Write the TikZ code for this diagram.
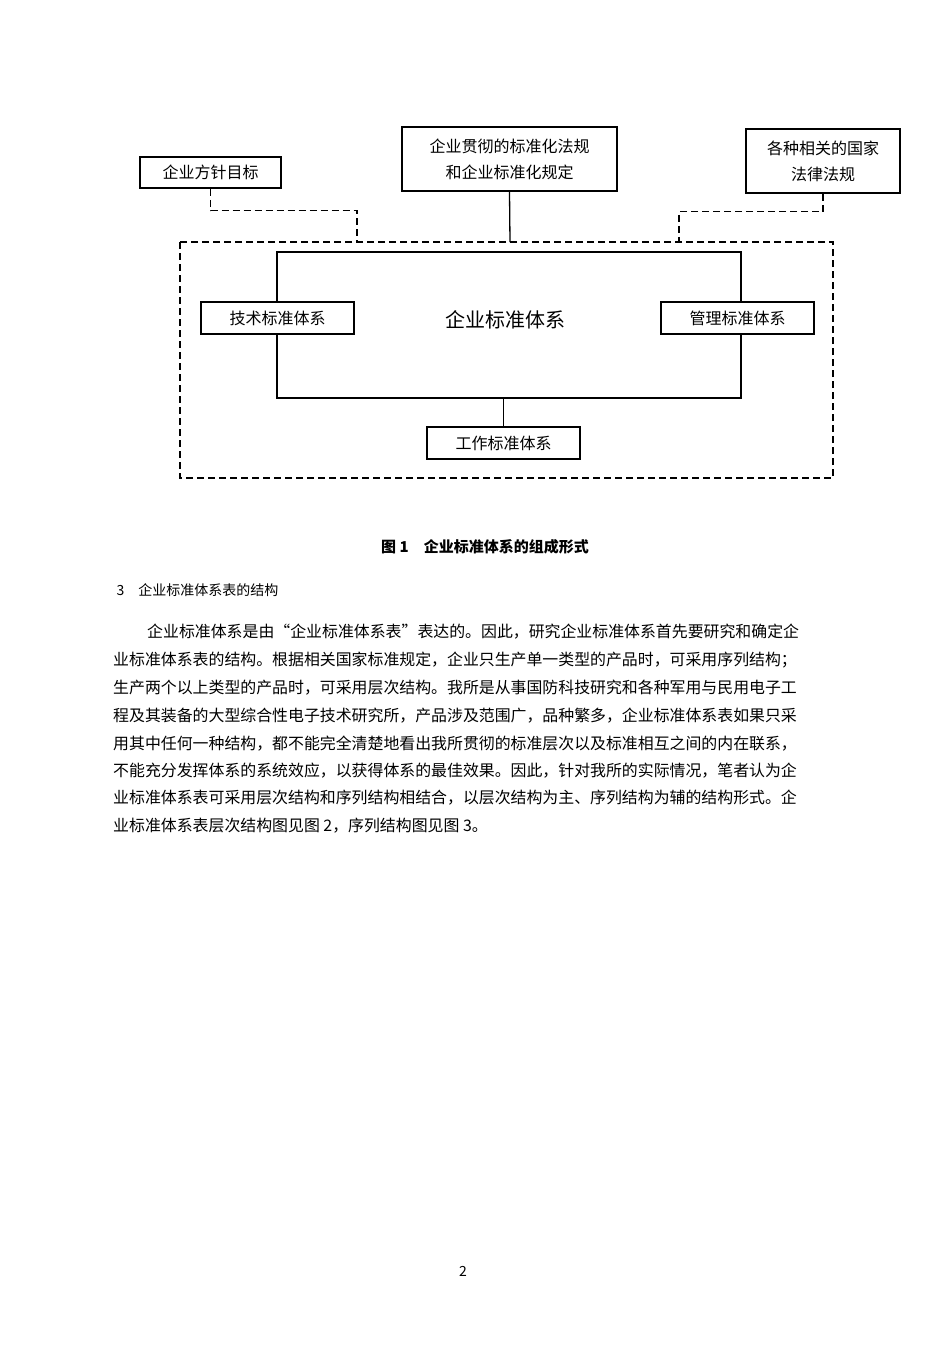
\documentclass[tikz,border=0pt]{standalone}
\usepackage{fontspec}
\setmainfont{Noto Sans CJK SC}
\begin{document}
\begin{tikzpicture}[x=1pt,y=-1pt,
 bx/.style={draw,line width=1.6pt,inner sep=0pt,font=\fontsize{16}{26}\selectfont,align=center},
 dl/.style={line width=1.3pt,dash pattern=on 7pt off 4pt},
 sl/.style={line width=1.3pt},
 para/.style={anchor=west,inner sep=0pt,font=\fontsize{15.9}{18}\selectfont}]
\useasboundingbox (0,0) rectangle (950,1345);
\node[bx,minimum width=141pt,minimum height=31pt] (fz) at (210.5,172.5) {企业方针目标};
\node[bx,minimum width=215pt,minimum height=64pt] (fg) at (509.5,159) {企业贯彻的标准化法规\\和企业标准化规定};
\node[bx,minimum width=154pt,minimum height=64pt] (gj) at (823,161) {各种相关的国家\\法律法规};
\draw[dl] (180,242) rectangle (833,478);
\coordinate (dtl) at (357,242); \coordinate (dtm) at (510,242); \coordinate (dtr) at (679,242);
\draw[sl] (277,252) rectangle (741,398);
\node[font=\fontsize{20}{24}\selectfont] (center) at (505,320) {企业标准体系};
\node[bx,fill=white,minimum width=153pt,minimum height=32pt] (js) at (277.5,318) {技术标准体系};
\node[bx,fill=white,minimum width=153pt,minimum height=32pt] (gl) at (737.5,318) {管理标准体系};
\node[bx,fill=white,minimum width=153pt,minimum height=32pt] (gz) at (503.5,443) {工作标准体系};
\coordinate (ib) at (503.5,398);
\draw[dl] (fz.south) -- ++(0,22) -| (dtl);
\draw[sl] (fg.south) -- (dtm);
\draw[dl] (gj.south) -- ++(0,18) -| (dtr);
\draw[sl] (ib) -- (gz.north);
\node[font=\fontsize{15}{18}\selectfont\bfseries] (cap) at (485,547) {图 1\quad 企业标准体系的组成形式};
\node[anchor=west,font=\fontsize{14}{17}\selectfont] (sec) at (113,590) {3\quad 企业标准体系表的结构};
\node[para] (p1) at (147,632) {企业标准体系是由“企业标准体系表”表达的。因此，研究企业标准体系首先要研究和确定企};
\node[para] (p2) at (113,660) {业标准体系表的结构。根据相关国家标准规定，企业只生产单一类型的产品时，可采用序列结构；};
\node[para] (p3) at (113,688) {生产两个以上类型的产品时，可采用层次结构。我所是从事国防科技研究和各种军用与民用电子工};
\node[para] (p4) at (113,716) {程及其装备的大型综合性电子技术研究所，产品涉及范围广，品种繁多，企业标准体系表如果只采};
\node[para] (p5) at (113,744) {用其中任何一种结构，都不能完全清楚地看出我所贯彻的标准层次以及标准相互之间的内在联系，};
\node[para] (p6) at (113,771) {不能充分发挥体系的系统效应，以获得体系的最佳效果。因此，针对我所的实际情况，笔者认为企};
\node[para] (p7) at (113,798) {业标准体系表可采用层次结构和序列结构相结合，以层次结构为主、序列结构为辅的结构形式。企};
\node[para] (p8) at (113,826) {业标准体系表层次结构图见图 2，序列结构图见图 3。};
\node[font=\fontsize{14}{17}\selectfont] (pg) at (463,1271) {2};
\end{tikzpicture}
\end{document}
